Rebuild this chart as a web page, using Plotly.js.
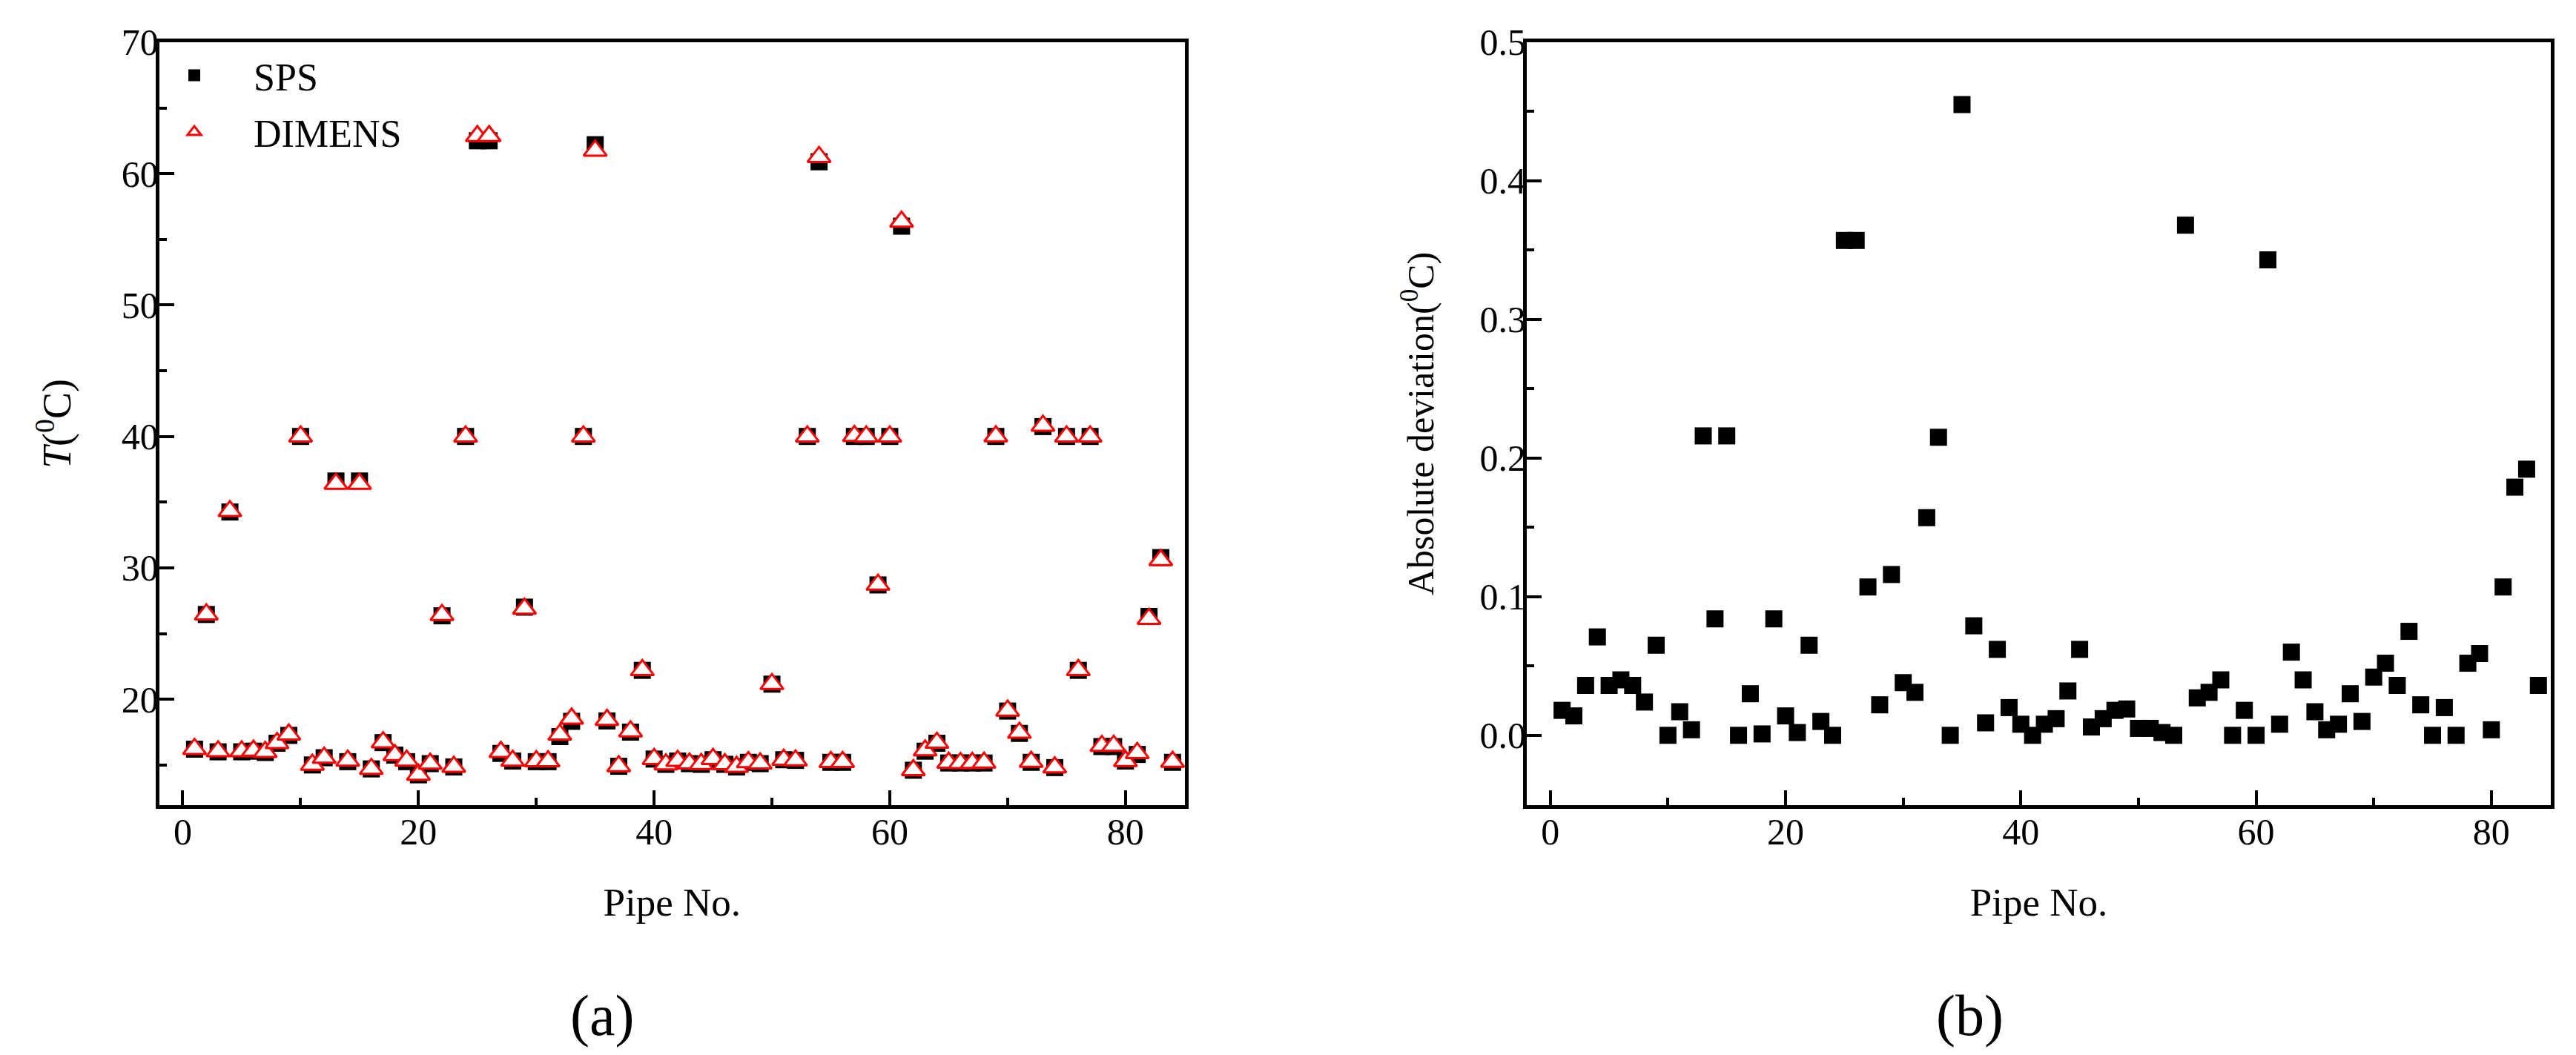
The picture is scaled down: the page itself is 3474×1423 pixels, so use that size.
<!DOCTYPE html>
<html>
<head>
<meta charset="utf-8">
<script src="https://cdn.plot.ly/plotly-3.0.1.min.js"></script>
<style>
  html, body { margin: 0; padding: 0; background: #ffffff; }
  #chart { width: 3474px; height: 1423px; }
</style>
</head>
<body>
<div id="chart"></div>
<script>
// ---------------- data ----------------
const pipeNo = [1,2,3,4,5,6,7,8,9,10,11,12,13,14,15,16,17,18,19,20,
  21,22,23,24,25,26,27,28,29,30,31,32,33,34,35,36,37,38,39,40,
  41,42,43,44,45,46,47,48,49,50,51,52,53,54,55,56,57,58,59,60,
  61,62,63,64,65,66,67,68,69,70,71,72,73,74,75,76,77,78,79,80,
  81,82,83,84];

// Temperature from SPS (deg C)
const spsTemp = [16.20,26.45,16.00,34.25,16.00,16.05,15.95,16.65,17.25,40.00,
  15.00,15.55,36.61,15.25,36.61,14.70,16.70,15.75,15.25,14.25,
  15.10,26.35,14.85,40.00,62.50,62.50,15.88,15.30,27.01,15.25,
  15.25,17.16,18.32,40.00,62.20,18.35,14.90,17.50,22.20,15.45,
  15.05,15.30,15.10,15.05,15.40,15.05,14.85,15.20,15.10,21.15,
  15.40,15.35,40.00,60.90,15.20,15.20,40.00,40.00,28.70,40.00,
  56.00,14.60,16.05,16.65,15.15,15.15,15.15,15.15,40.00,19.10,
  17.40,15.20,40.75,14.80,40.00,22.20,40.00,16.40,16.40,15.30,
  15.80,26.30,30.78,15.20];

// Temperature from DIMENS (deg C)
const dimensTemp = [16.22,26.46,16.04,34.32,16.04,16.09,15.99,16.67,17.32,40.00,
  15.02,15.55,36.40,15.33,36.40,14.70,16.73,15.75,15.33,14.26,
  15.10,26.42,14.86,40.00,62.86,62.86,15.99,15.32,26.89,15.29,
  15.28,17.31,18.53,40.00,61.75,18.43,14.91,17.56,22.22,15.46,
  15.05,15.31,15.11,15.08,15.46,15.06,14.86,15.22,15.12,21.16,
  15.40,15.35,40.00,61.27,15.23,15.23,40.04,40.00,28.72,40.00,
  56.34,14.61,16.11,16.69,15.17,15.15,15.16,15.18,40.01,19.14,
  17.45,15.24,40.82,14.82,40.00,22.22,40.00,16.45,16.46,15.30,
  15.91,26.12,30.59,15.24];

// Absolute deviation (deg C)
const absDeviation = [0.018,0.014,0.036,0.071,0.036,0.040,0.036,0.024,0.065,0.000,
  0.017,0.004,0.216,0.084,0.216,0.000,0.030,0.001,0.084,0.014,
  0.002,0.065,0.010,0.000,0.357,0.357,0.107,0.022,0.116,0.038,
  0.031,0.157,0.215,0.000,0.455,0.079,0.009,0.062,0.020,0.008,
  0.000,0.008,0.012,0.032,0.062,0.006,0.012,0.018,0.019,0.005,
  0.005,0.002,0.000,0.368,0.027,0.031,0.040,0.000,0.018,0.000,
  0.343,0.008,0.060,0.040,0.017,0.004,0.008,0.030,0.010,0.042,
  0.052,0.036,0.075,0.022,0.000,0.020,0.000,0.052,0.059,0.004,
  0.107,0.179,0.192,0.036];

const seriesNames = ['SPS', 'DIMENS'];
const xTitle = 'Pipe No.';
const yTitleA = '<i>T</i>(<sup>0</sup>C)';
const yTitleB = 'Absolute deviation(<sup>0</sup>C)';
const panelLabels = ['(a)', '(b)'];

// ---------------- style ----------------
const FONT = 'Liberation Serif, Times New Roman, serif';
const BLACK = '#000000';

function minorTicks(dtick) {
  return { ticks: 'inside', ticklen: 10, tickwidth: 4, tickcolor: BLACK, dtick: dtick, tick0: 0, showgrid: false };
}

function baseAxis(standoff) {
  return {
    showline: true, linewidth: 5, linecolor: BLACK, mirror: true,
    showgrid: false, zeroline: false,
    ticks: 'inside', ticklen: 20, tickwidth: 4, tickcolor: BLACK,
    tickfont: { family: FONT, size: 50, color: BLACK },
    ticklabelstandoff: standoff
  };
}

function xAxis(domain, anchor) {
  return Object.assign(baseAxis(-12), {
    domain: domain, anchor: anchor,
    range: [-2, 85.05], tick0: 0, dtick: 20,
    minor: minorTicks(10),
    title: { text: xTitle, font: { family: FONT, size: 53, color: BLACK }, standoff: 50 }
  });
}

const yDomain = [0.2368, 0.9600];

const layout = {
  width: 3474, height: 1423,
  paper_bgcolor: '#ffffff', plot_bgcolor: '#ffffff',
  margin: { l: 0, r: 0, t: 0, b: 0, pad: 0 },
  font: { family: FONT, color: BLACK, size: 50 },
  showlegend: true,
  legend: {
    x: 0.0524, y: 0.957, xanchor: 'left', yanchor: 'top',
    bgcolor: 'rgba(0,0,0,0)', borderwidth: 0,
    font: { family: FONT, size: 52, color: BLACK },
    itemwidth: 150, tracegroupgap: 6
  },
  xaxis: xAxis([0.0618, 0.4600], 'y'),
  yaxis: Object.assign(baseAxis(-14), {
    domain: yDomain, anchor: 'x',
    range: [11.94, 70], tick0: 0, dtick: 10,
    minor: minorTicks(5),
    title: { text: yTitleA, font: { family: FONT, size: 54, color: BLACK }, standoff: 52 }
  }),
  xaxis2: xAxis([0.5927, 0.9902], 'y2'),
  yaxis2: Object.assign(baseAxis(-14), {
    domain: yDomain, anchor: 'x2',
    range: [-0.0504, 0.5], tick0: 0, dtick: 0.1, tickformat: '.1f',
    minor: minorTicks(0.05),
    title: { text: yTitleB, font: { family: FONT, size: 50, color: BLACK }, standoff: 48 }
  }),
  annotations: [
    { text: panelLabels[0], xref: 'paper', yref: 'paper', x: 0.2340, y: 0.0379,
      xanchor: 'center', yanchor: 'middle', showarrow: false,
      font: { family: FONT, size: 78, color: BLACK } },
    { text: panelLabels[1], xref: 'paper', yref: 'paper', x: 0.7648, y: 0.0379,
      xanchor: 'center', yanchor: 'middle', showarrow: false,
      font: { family: FONT, size: 78, color: BLACK } }
  ]
};

const traces = [
  {
    type: 'scatter', mode: 'markers', name: seriesNames[0], legendgroup: 'g1',
    x: pipeNo, y: spsTemp, xaxis: 'x', yaxis: 'y',
    marker: { symbol: 'square', size: 23, color: BLACK, line: { width: 0 } },
    cliponaxis: false
  },
  {
    type: 'scatter', mode: 'markers', name: seriesNames[1], legendgroup: 'g2',
    x: pipeNo, y: dimensTemp, xaxis: 'x', yaxis: 'y',
    marker: { symbol: 'triangle-up', size: 27, color: '#ffffff', line: { width: 3, color: '#ff0000' } },
    cliponaxis: false
  },
  {
    type: 'scatter', mode: 'markers', name: 'Absolute deviation', showlegend: false,
    x: pipeNo, y: absDeviation, xaxis: 'x2', yaxis: 'y2',
    marker: { symbol: 'square', size: 23, color: BLACK, line: { width: 0 } },
    cliponaxis: false
  }
];

Plotly.newPlot('chart', traces, layout, { staticPlot: true, displayModeBar: false });
</script>
</body>
</html>
